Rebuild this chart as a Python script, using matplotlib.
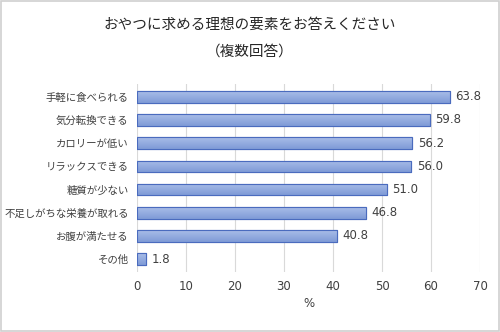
import matplotlib.pyplot as plt
import matplotlib.patches as patches
import numpy as np

plt.rcParams['font.family'] = ['Noto Sans CJK JP', 'DejaVu Sans']

labels = ['手軽に食べられる', '気分転換できる', 'カロリーが低い', 'リラックスできる',
          '糖質が少ない', '不足しがちな栄養が取れる', 'お腹が満たせる', 'その他']
values = [63.8, 59.8, 56.2, 56.0, 51.0, 46.8, 40.8, 1.8]
xticks = [0, 10, 20, 30, 40, 50, 60, 70]

fig = plt.figure(figsize=(5, 3.32), dpi=100)
ax = fig.add_axes([0.274, 0.181, 0.686, 0.566])

y = np.arange(len(labels))
bars = ax.barh(y, values, height=0.5, color='#8FA8DE', edgecolor='#4A6BBE', linewidth=0.8, zorder=3)

# 縦方向のグラデーション（上が明るい）
cmap = plt.matplotlib.colors.LinearSegmentedColormap.from_list('g', ['#A9BDE8', '#7F9BD7'])
for b in bars:
    x0, y0 = b.get_x(), b.get_y()
    w, h = b.get_width(), b.get_height()
    im = ax.imshow(np.linspace(0, 1, 64).reshape(-1, 1), cmap=cmap, aspect='auto',
                   extent=(x0, x0 + w, y0 + h, y0), origin='upper', zorder=3.5)
    im.set_clip_path(b)
    ax.add_patch(patches.Rectangle((x0, y0), w, h, fill=False, edgecolor='#4A6BBE',
                                   linewidth=0.8, zorder=4))

for yi, v in zip(y, values):
    ax.text(v + 1.1, yi, f'{v:.1f}', va='center', ha='left', fontsize=8.5,
            family='DejaVu Sans', color='#404040')

ax.set_yticks(y)
ax.set_yticklabels(labels, fontsize=7.5, color='#404040')
ax.set_xticks(xticks)
ax.set_xticklabels([str(t) for t in xticks], fontsize=8.5, family='DejaVu Sans', color='#404040')
ax.set_xlim(0, 70)
ax.set_ylim(len(labels) - 0.45, -0.55)
ax.set_xlabel('%', fontsize=8.5, family='DejaVu Sans', color='#404040', labelpad=3)
ax.tick_params(length=0, pad=6)
ax.grid(axis='x', color='#D9D9D9', linewidth=0.8, zorder=0)
for s in ax.spines.values():
    s.set_visible(False)

fig.text(0.5, 0.925, 'おやつに求める理想の要素をお答えください', ha='center', va='center',
         fontsize=10.5, color='#262626')
fig.text(0.5, 0.845, '（複数回答）', ha='center', va='center', fontsize=10.5, color='#262626')

fig.add_artist(patches.Rectangle((0.002, 0.003), 0.996, 0.994, transform=fig.transFigure,
                                 fill=False, edgecolor='#D0D0D0', linewidth=1.2))

fig.savefig('out.png', dpi=100)
